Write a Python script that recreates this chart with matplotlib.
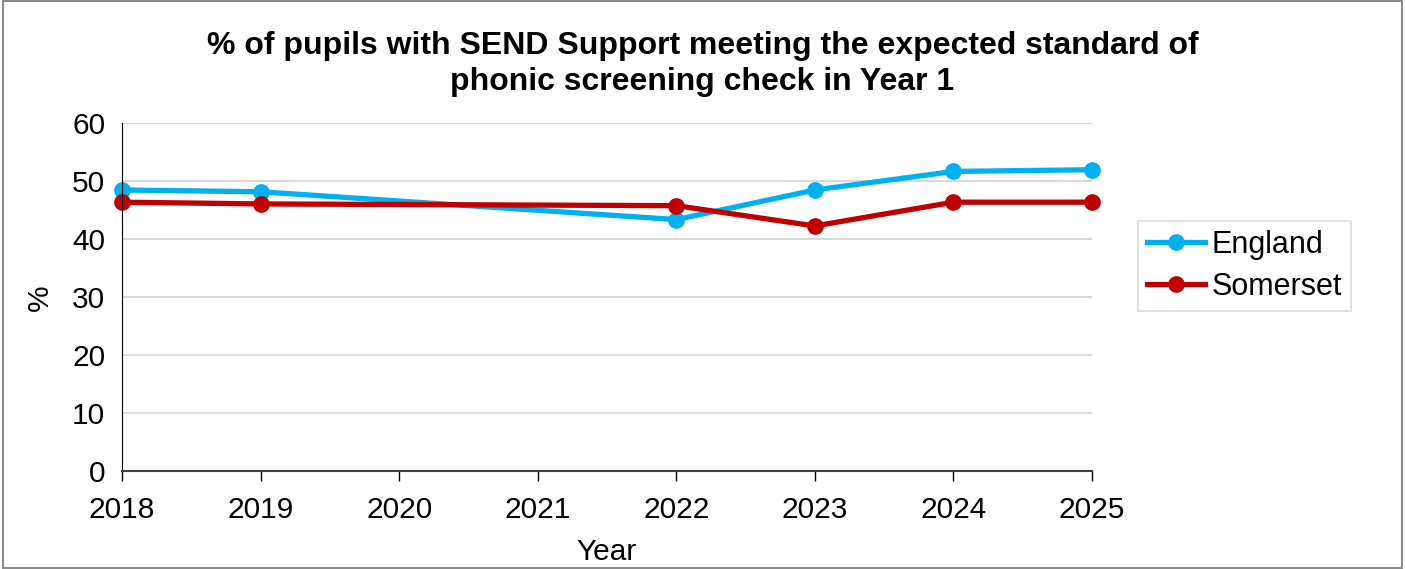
import matplotlib
matplotlib.use("Agg")
import matplotlib.pyplot as plt
from matplotlib.patches import Rectangle

plt.rcParams['font.family'] = ['Liberation Sans', 'DejaVu Sans']

# ── Data ──────────────────────────────────────────────────────────────
years_axis   = [2018, 2019, 2020, 2021, 2022, 2023, 2024, 2025]
years_data   = [2018, 2019, 2022, 2023, 2024, 2025]
england      = [48.5, 48.2, 43.4, 48.5, 51.7, 52.0]
somerset     = [46.4, 46.1, 45.8, 42.3, 46.4, 46.4]
yticks       = [0, 10, 20, 30, 40, 50, 60]

TITLE = "% of pupils with SEND Support meeting the expected standard of\nphonic screening check in Year 1"

fig = plt.figure(figsize=(14.05, 5.69), dpi=100)
ax = fig.add_axes([122/1405, 1 - 471.3/569, (1092 - 122)/1405, (471.3 - 123.3)/569])

ax.plot(years_data, england, color="#00B0F0", linewidth=3.8, marker="o",
        markersize=11, label="England", solid_joinstyle="round", clip_on=False)
ax.plot(years_data, somerset, color="#C00000", linewidth=3.8, marker="o",
        markersize=11, label="Somerset", solid_joinstyle="round", clip_on=False)

ax.set_xlim(2018, 2025)
ax.set_ylim(0, 60)
ax.set_xticks(years_axis)
ax.set_yticks(yticks)
ax.tick_params(axis="x", labelsize=21.5, length=7, width=1, direction="out", pad=11)
ax.tick_params(axis="y", labelsize=21.5, length=0, pad=12)
ax.grid(axis="y", color="#D9D9D9", linewidth=1.5)
ax.set_axisbelow(True)
for s in ["top", "right"]:
    ax.spines[s].set_visible(False)
ax.spines["left"].set_color("black")
ax.spines["bottom"].set_color("#404040")
ax.spines["bottom"].set_linewidth(1.5)

ax.set_xlabel("Year", fontsize=21.5, labelpad=10)
ax.set_ylabel("%", fontsize=21.5, labelpad=13)

fig.text(0.5, 1 - 64/569, TITLE, ha="center", va="center", fontsize=23,
         fontweight="bold", linespacing=1.3)

leg = ax.legend(loc="center left", bbox_to_anchor=(1138/1405, 1 - 266/569),
                bbox_transform=fig.transFigure, fontsize=22, frameon=True,
                fancybox=False, edgecolor="#D9D9D9", handlelength=1.9,
                handletextpad=0.2, borderpad=0.3, labelspacing=0.4,
                borderaxespad=0)
leg.get_frame().set_linewidth(1.5)

fig.patches.append(Rectangle((0.002, 0.002), 0.996, 0.996, transform=fig.transFigure,
                             fill=False, edgecolor="#8C8C8C", linewidth=1.5))

fig.savefig("out.png", dpi=100)
